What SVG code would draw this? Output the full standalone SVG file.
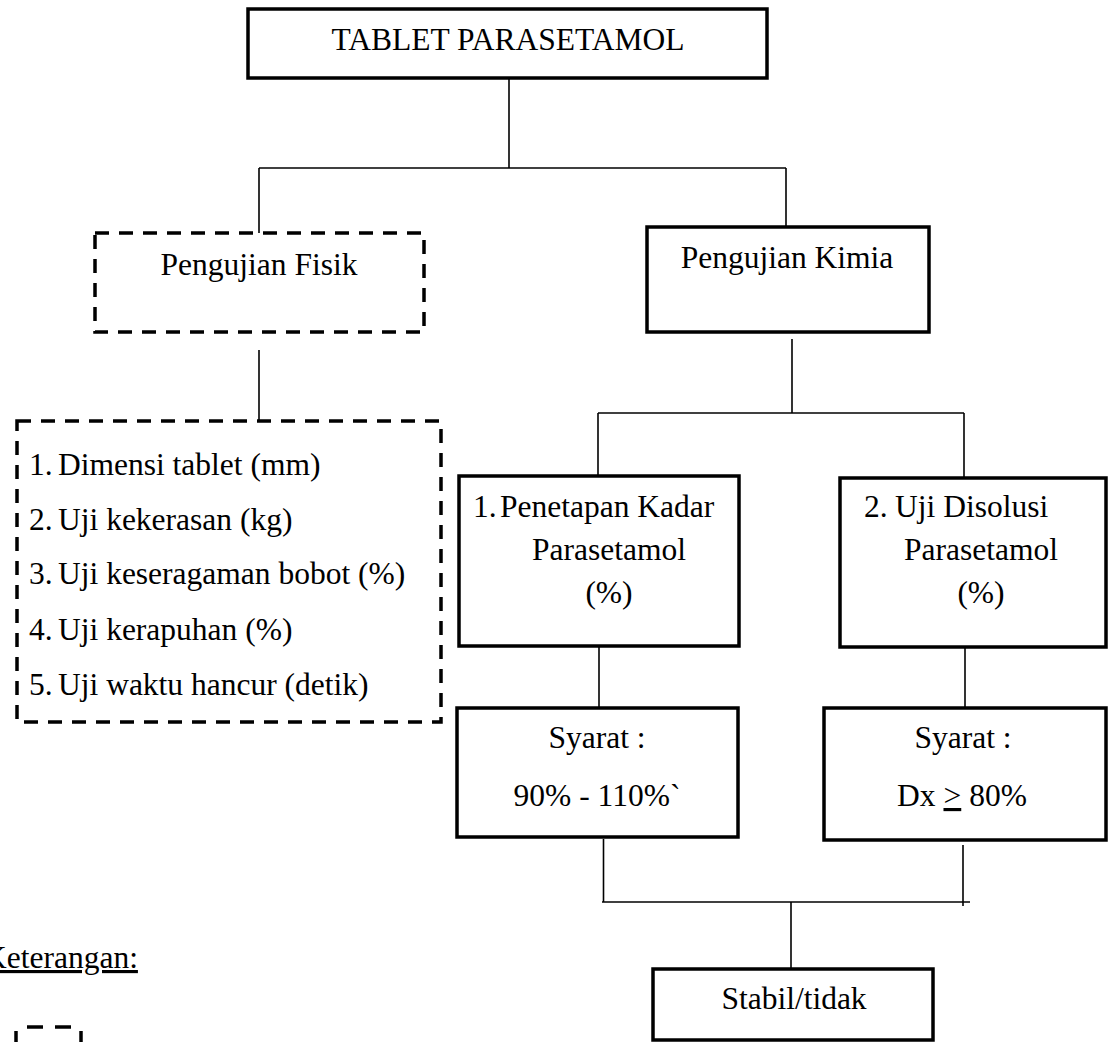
<svg xmlns="http://www.w3.org/2000/svg" width="1111" height="1042" viewBox="0 0 1111 1042">
<style>
  text { font-family: "Liberation Serif", "Times New Roman", serif; font-size: 31.5px; fill: #000; }
  .c { text-anchor: middle; }
  .box { fill: #fff; stroke: #000; stroke-width: 3.5; }
  .dash { fill: none; stroke: #000; stroke-width: 3.5; stroke-dasharray: 14 10; }
  .conn line { stroke: #000; stroke-width: 1.6; }
  .leg { stroke: #000; stroke-width: 3.5; }
</style>
<rect width="1111" height="1042" fill="#fff"/>
<g class="conn" id="connectors">
  <line x1="509" y1="78" x2="509" y2="168"/>
  <line x1="259" y1="168" x2="786" y2="168"/>
  <line x1="259" y1="168" x2="259" y2="233"/>
  <line x1="786" y1="168" x2="786" y2="227"/>
  <line x1="259" y1="350" x2="259" y2="420"/>
  <line x1="792" y1="339" x2="792" y2="413"/>
  <line x1="598" y1="413" x2="964" y2="413"/>
  <line x1="598" y1="413" x2="598" y2="476"/>
  <line x1="964" y1="413" x2="964" y2="478"/>
  <line x1="599" y1="646" x2="599" y2="708"/>
  <line x1="965" y1="647" x2="965" y2="708"/>
  <line x1="603.5" y1="839" x2="603.5" y2="902"/>
  <line x1="963" y1="845" x2="963" y2="906"/>
  <line x1="602" y1="902" x2="970" y2="902"/>
  <line x1="791" y1="902" x2="791" y2="969"/>
</g>
<g id="tablet">
  <rect class="box" x="248" y="9" width="519" height="69"/>
  <text class="c" x="508" y="50">TABLET PARASETAMOL</text>
</g>
<g id="fisik">
  <rect class="dash" x="95" y="233" width="329" height="99"/>
  <text class="c" x="259" y="275">Pengujian Fisik</text>
</g>
<g id="fisik-list">
  <rect class="dash" x="17" y="421" width="424" height="301"/>
  <text x="29" y="475">1.</text><text x="58" y="475">Dimensi tablet (mm)</text>
  <text x="29" y="530">2.</text><text x="58" y="530">Uji kekerasan (kg)</text>
  <text x="29" y="584">3.</text><text x="58" y="584">Uji keseragaman bobot (%)</text>
  <text x="29" y="640">4.</text><text x="58" y="640">Uji kerapuhan (%)</text>
  <text x="29" y="695">5.</text><text x="58" y="695">Uji waktu hancur (detik)</text>
</g>
<g id="kimia">
  <rect class="box" x="647" y="227" width="282" height="105"/>
  <text class="c" x="787" y="268">Pengujian Kimia</text>
</g>
<g id="penetapan">
  <rect class="box" x="459" y="476" width="280" height="170"/>
  <text x="473" y="517">1.</text><text x="500" y="517">Penetapan Kadar</text>
  <text class="c" x="609" y="560">Parasetamol</text>
  <text class="c" x="609" y="603">(%)</text>
</g>
<g id="disolusi">
  <rect class="box" x="840" y="478" width="266" height="169"/>
  <text x="864" y="517">2.</text><text x="895" y="517">Uji Disolusi</text>
  <text class="c" x="981" y="560">Parasetamol</text>
  <text class="c" x="981" y="603">(%)</text>
</g>
<g id="syarat-kadar">
  <rect class="box" x="457" y="708" width="281" height="129"/>
  <text class="c" x="597" y="748">Syarat :</text>
  <text class="c" x="597" y="806">90% - 110%`</text>
</g>
<g id="syarat-disolusi">
  <rect class="box" x="824" y="708" width="282" height="132"/>
  <text class="c" x="963" y="748">Syarat :</text>
  <text class="c" x="962" y="806">Dx <tspan text-decoration="underline">&gt;</tspan> 80%</text>
</g>
<g id="stabil">
  <rect class="box" x="653" y="969" width="280" height="71"/>
  <text class="c" x="794" y="1009">Stabil/tidak</text>
</g>
<g id="legend">
  <text x="-16" y="968" text-decoration="underline">Keterangan:</text>
  <line class="leg" x1="16" y1="1031" x2="16" y2="1042"/>
  <line class="leg" x1="27" y1="1027" x2="43" y2="1027"/>
  <line class="leg" x1="55" y1="1027" x2="71" y2="1027"/>
  <line class="leg" x1="81" y1="1031" x2="81" y2="1042"/>
</g>
</svg>
